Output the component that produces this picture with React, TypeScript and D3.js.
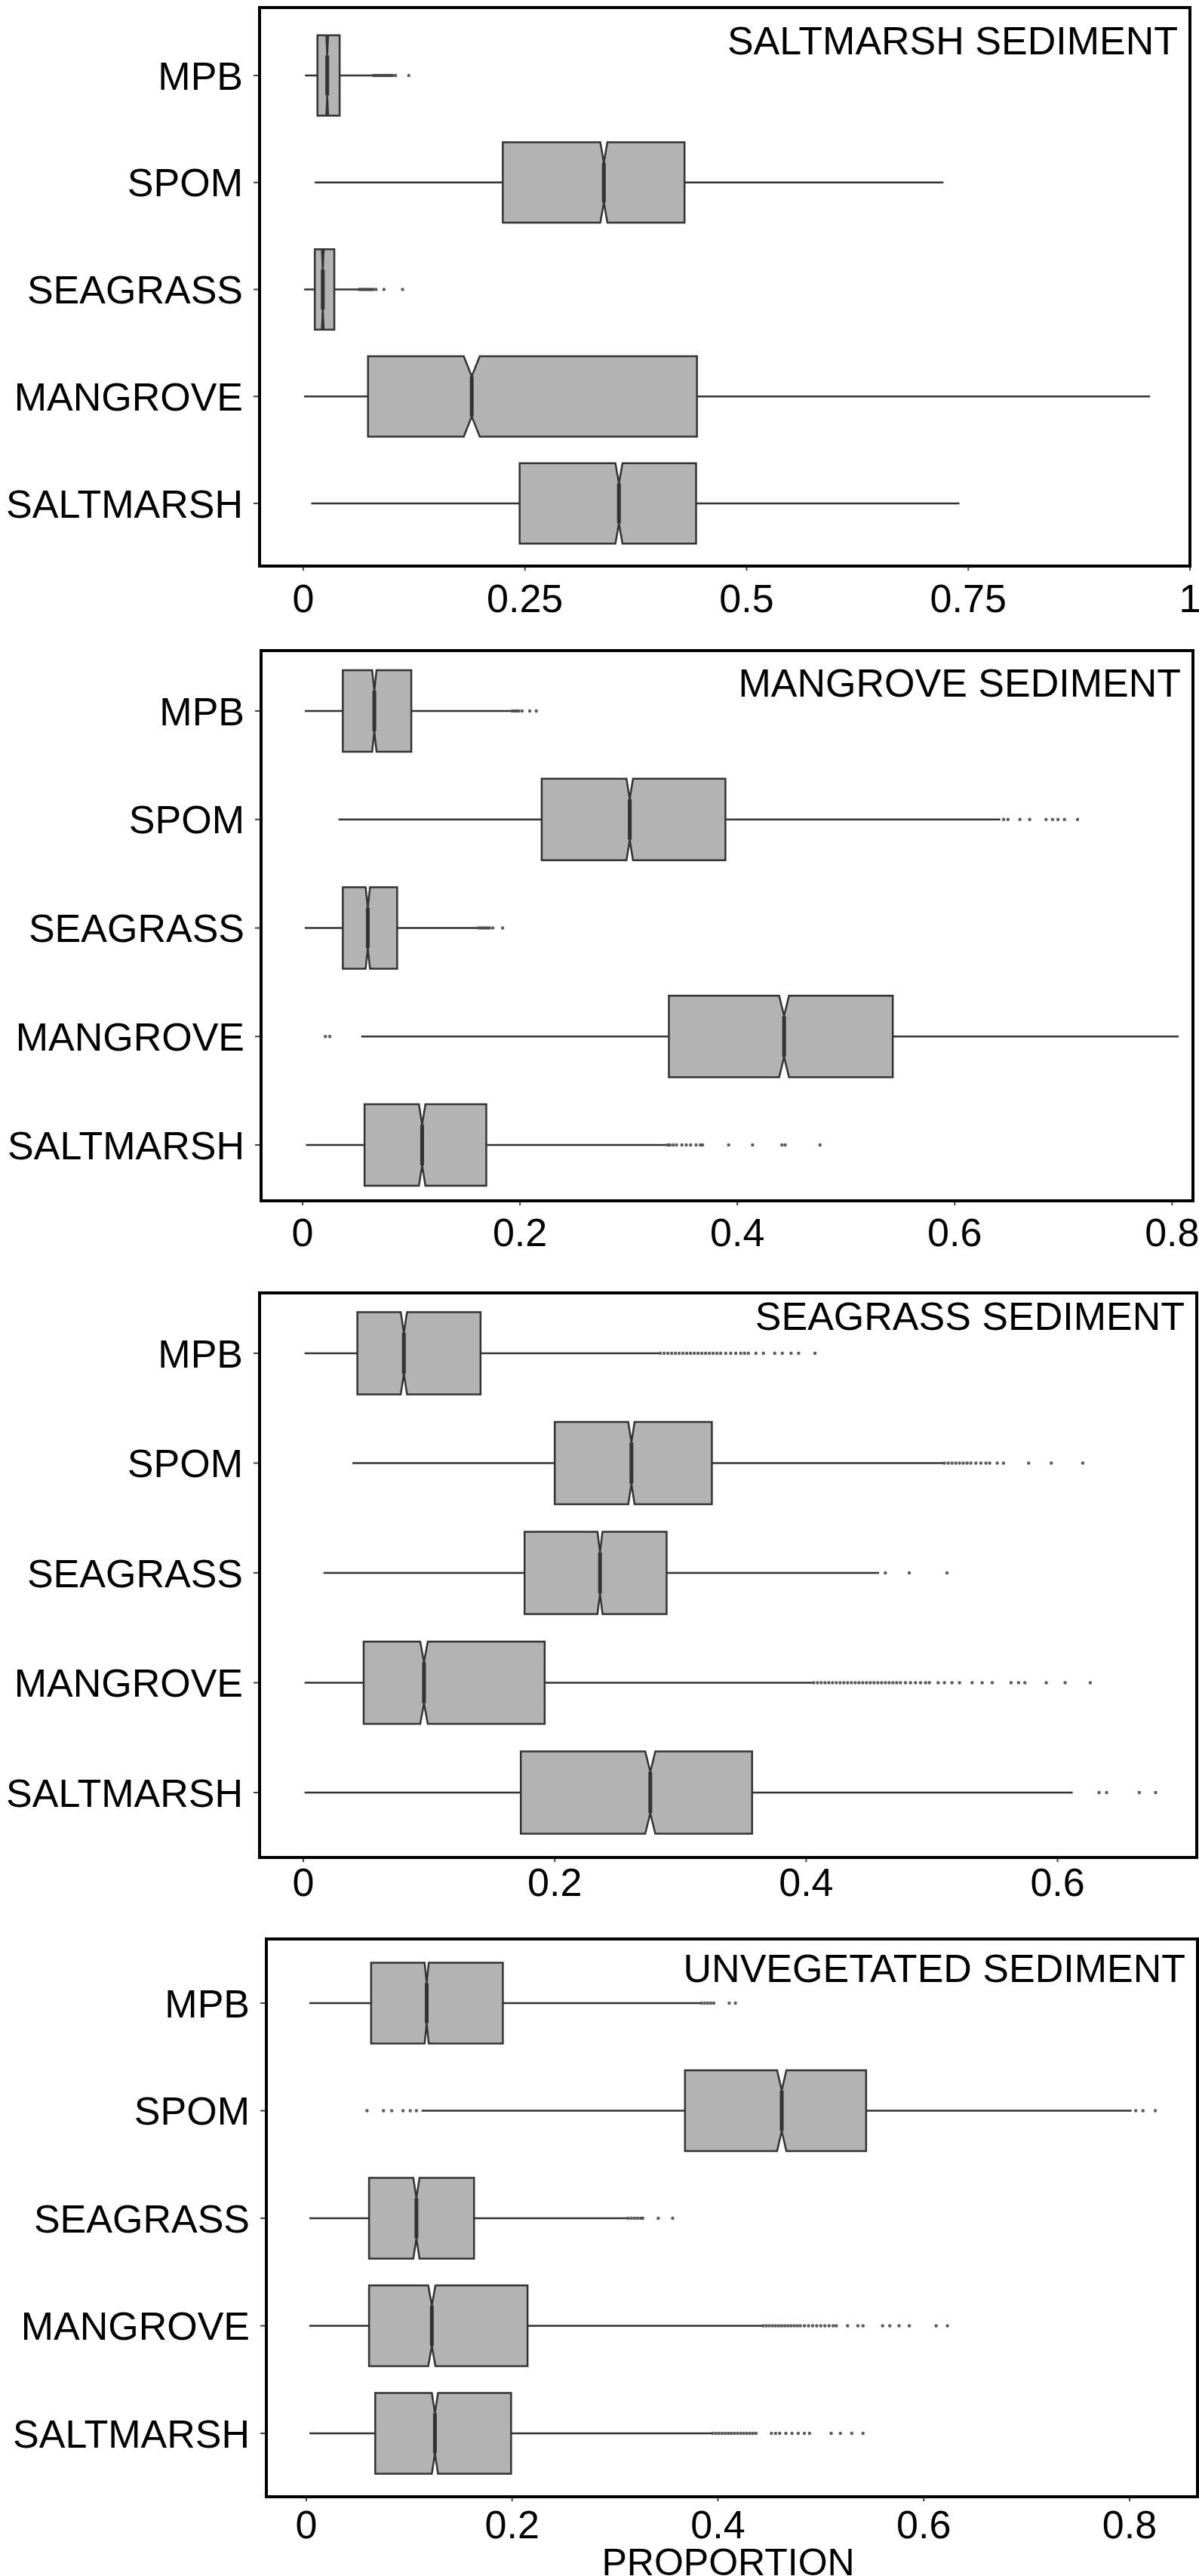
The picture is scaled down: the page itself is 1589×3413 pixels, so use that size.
import React from 'react';
import * as d3 from 'd3';

const W = 1589;
const H = 3413;

const categories = ['MPB', 'SPOM', 'SEAGRASS', 'MANGROVE', 'SALTMARSH'];
const panelTitles = ['SALTMARSH SEDIMENT', 'MANGROVE SEDIMENT', 'SEAGRASS SEDIMENT', 'UNVEGETATED SEDIMENT'];

// [whisker lo, q1, median, q3, whisker hi, notch half-width]
const saltmarshStats = [
  [0.002, 0.016, 0.027, 0.041, 0.078, 0.001],
  [0.013, 0.225, 0.339, 0.43, 0.722, 0.004],
  [0.001, 0.013, 0.022, 0.035, 0.062, 0.001],
  [0.001, 0.073, 0.19, 0.444, 0.955, 0.009],
  [0.009, 0.244, 0.356, 0.443, 0.74, 0.004],
];
const mangroveStats = [
  [0.002, 0.037, 0.066, 0.1, 0.192, 0.002],
  [0.033, 0.22, 0.301, 0.389, 0.642, 0.003],
  [0.002, 0.037, 0.06, 0.087, 0.161, 0.002],
  [0.054, 0.337, 0.443, 0.543, 0.806, 0.0045],
  [0.003, 0.057, 0.11, 0.169, 0.335, 0.003],
];
const seagrassStats = [
  [0.001, 0.043, 0.08, 0.141, 0.283, 0.0025],
  [0.039, 0.2, 0.261, 0.325, 0.509, 0.0025],
  [0.016, 0.176, 0.236, 0.289, 0.458, 0.002],
  [0.001, 0.048, 0.096, 0.192, 0.405, 0.003],
  [0.001, 0.173, 0.276, 0.357, 0.612, 0.004],
];
const unvegetatedStats = [
  [0.003, 0.063, 0.117, 0.191, 0.383, 0.002],
  [0.112, 0.368, 0.462, 0.544, 0.802, 0.0045],
  [0.003, 0.061, 0.107, 0.163, 0.312, 0.003],
  [0.003, 0.061, 0.122, 0.215, 0.443, 0.0035],
  [0.003, 0.067, 0.125, 0.199, 0.394, 0.003],
];

const saltmarshOutliers = [
  [0.079, 0.081, 0.083, 0.085, 0.087, 0.089, 0.091, 0.093, 0.095, 0.097, 0.099, 0.101, 0.104, 0.119],
  [],
  [0.063, 0.065, 0.067, 0.069, 0.071, 0.073, 0.075, 0.077, 0.079, 0.082, 0.091, 0.112],
  [],
  [],
];
const mangroveOutliers = [
  [0.193, 0.195, 0.197, 0.199, 0.202, 0.209, 0.215],
  [0.645, 0.649, 0.66, 0.669, 0.684, 0.69, 0.695, 0.701, 0.713],
  [0.162, 0.164, 0.166, 0.168, 0.17, 0.172, 0.175, 0.184],
  [0.021, 0.025],
  [0.336, 0.338, 0.341, 0.344, 0.349, 0.353, 0.357, 0.362, 0.366, 0.368, 0.392, 0.414, 0.441, 0.444, 0.476],
];
const seagrassOutliers = [
  [0.284, 0.287, 0.29, 0.293, 0.296, 0.299, 0.302, 0.305, 0.308, 0.311, 0.314, 0.317, 0.32, 0.323, 0.326,
    0.329, 0.332, 0.336, 0.34, 0.344, 0.348, 0.351, 0.354, 0.36, 0.366, 0.375, 0.381, 0.388, 0.394, 0.407],
  [0.51, 0.513, 0.516, 0.519, 0.522, 0.525, 0.528, 0.531, 0.535, 0.539, 0.543, 0.546, 0.552, 0.557, 0.577, 0.595, 0.62],
  [0.463, 0.482, 0.512],
  [0.406, 0.409, 0.412, 0.415, 0.418, 0.421, 0.424, 0.427, 0.43, 0.433, 0.436, 0.439, 0.442, 0.445, 0.448,
    0.451, 0.454, 0.457, 0.46, 0.463, 0.466, 0.469, 0.472, 0.475, 0.479, 0.483, 0.487, 0.491, 0.495, 0.498,
    0.505, 0.51, 0.516, 0.522, 0.532, 0.54, 0.548, 0.563, 0.569, 0.574, 0.591, 0.606, 0.626],
  [0.633, 0.639, 0.665, 0.678],
];
const unvegetatedOutliers = [
  [0.384, 0.387, 0.39, 0.393, 0.396, 0.411, 0.417],
  [0.059, 0.075, 0.083, 0.094, 0.101, 0.107, 0.806, 0.813, 0.825],
  [0.313, 0.316, 0.319, 0.322, 0.325, 0.327, 0.342, 0.356],
  [0.444, 0.447, 0.45, 0.453, 0.456, 0.459, 0.462, 0.465, 0.468, 0.471, 0.474, 0.477, 0.48, 0.484, 0.488,
    0.492, 0.496, 0.5, 0.504, 0.508, 0.512, 0.515, 0.526, 0.536, 0.541, 0.56, 0.567, 0.576, 0.586, 0.612, 0.623],
  [0.395, 0.398, 0.401, 0.404, 0.407, 0.41, 0.413, 0.416, 0.419, 0.422, 0.425, 0.428, 0.431, 0.434, 0.437,
    0.452, 0.456, 0.46, 0.466, 0.472, 0.478, 0.484, 0.489, 0.51, 0.519, 0.53, 0.541],
];

const ticksA = [0, 0.25, 0.5, 0.75, 1];
const ticksB = [0, 0.2, 0.4, 0.6, 0.8];
const ticksC = [0, 0.2, 0.4, 0.6];

const xLabel = 'PROPORTION';

const statsList = [saltmarshStats, mangroveStats, seagrassStats, unvegetatedStats];
const outlierList = [saltmarshOutliers, mangroveOutliers, seagrassOutliers, unvegetatedOutliers];
const tickList = [ticksA, ticksB, ticksC, ticksB];

// frame geometry per panel (pixels)
const layout = [
  { top: 10, bottom: 750, left: 344, right: 1577, domain: [-0.0493, 1.0], catTop: 100, catBottom: 667, tickY: 792, titleY: 72 },
  { top: 862, bottom: 1591, left: 346, right: 1581, domain: [-0.0382, 0.8192], catTop: 942, catBottom: 1517, tickY: 1632, titleY: 923 },
  { top: 1713, bottom: 2461, left: 344, right: 1586, domain: [-0.0348, 0.7107], catTop: 1793, catBottom: 2375, tickY: 2493, titleY: 1762 },
  { top: 2569, bottom: 3308, left: 353, right: 1587, domain: [-0.0388, 0.866], catTop: 2654, catBottom: 3224, tickY: 3344, titleY: 2626 },
];

const FONT = '"Liberation Sans", Arial, sans-serif';
const INK = '#333333';

const fmt = (v: number) => (v === 0 ? '0' : String(v));

const Panel = ({ i }: { i: number }) => {
  const L = layout[i];
  const x = d3.scaleLinear().domain(L.domain).range([L.left, L.right]);
  const y = d3.scalePoint<string>().domain(categories).range([L.catTop, L.catBottom]);
  const step = (L.catBottom - L.catTop) / (categories.length - 1);
  const h = (step * 0.75) / 2;
  const stats = statsList[i];
  const outs = outlierList[i];

  return (
    <g>
      {categories.map((c, k) => {
        const [lo, q1, med, q3, hi, n] = stats[k];
        const cy = y(c) as number;
        const xm = x(med);
        const nl = x(med - n);
        const nh = x(med + n);
        const path = d3.path();
        path.moveTo(x(q1), cy - h);
        path.lineTo(nl, cy - h);
        path.lineTo(xm, cy - h / 2);
        path.lineTo(nh, cy - h);
        path.lineTo(x(q3), cy - h);
        path.lineTo(x(q3), cy + h);
        path.lineTo(nh, cy + h);
        path.lineTo(xm, cy + h / 2);
        path.lineTo(nl, cy + h);
        path.lineTo(x(q1), cy + h);
        path.closePath();
        return (
          <g key={c}>
            <line x1={x(lo)} x2={x(q1)} y1={cy} y2={cy} stroke={INK} strokeWidth={2.5} />
            <line x1={x(q3)} x2={x(hi)} y1={cy} y2={cy} stroke={INK} strokeWidth={2.5} />
            <path d={path.toString()} fill="#b3b3b3" stroke={INK} strokeWidth={2.5} />
            <line x1={xm} x2={xm} y1={cy - h / 2} y2={cy + h / 2} stroke={INK} strokeWidth={5} />
            {outs[k].map((v, j) => (
              <circle key={j} cx={x(v)} cy={cy} r={2.2} fill="#333" fillOpacity={0.8} />
            ))}
            <line x1={L.left - 8} x2={L.left} y1={cy} y2={cy} stroke="#444" strokeWidth={2} />
            <text
              x={L.left - 22}
              y={cy}
              dy="0.36em"
              textAnchor="end"
              fontFamily={FONT}
              fontSize={52}
              fill="#000"
            >
              {c}
            </text>
          </g>
        );
      })}
      <rect
        x={L.left}
        y={L.top}
        width={L.right - L.left}
        height={L.bottom - L.top}
        fill="none"
        stroke="#000"
        strokeWidth={4}
      />
      {tickList[i].map((t) => (
        <g key={t}>
          <line x1={x(t)} x2={x(t)} y1={L.bottom + 2} y2={L.bottom + 6} stroke="#444" strokeWidth={2} />
          <text
            x={x(t)}
            y={L.tickY}
            dy="0.36em"
            textAnchor="middle"
            fontFamily={FONT}
            fontSize={52}
            fill="#000"
          >
            {fmt(t)}
          </text>
        </g>
      ))}
      <text
        x={L.right - 16}
        y={L.titleY}
        textAnchor="end"
        fontFamily={FONT}
        fontSize={52}
        fill="#000"
      >
        {panelTitles[i]}
      </text>
    </g>
  );
};

export default function App() {
  const last = layout[layout.length - 1];
  const mid = d3.scaleLinear().domain(last.domain).range([last.left, last.right]);
  return (
    <svg
      width={W}
      height={H}
      viewBox={`0 0 ${W} ${H}`}
      style={{ position: 'absolute', left: 0, top: 0, background: '#fff' }}
    >
      <rect width={W} height={H} fill="#fff" />
      {layout.map((_, i) => (
        <Panel key={i} i={i} />
      ))}
      <text
        x={mid(0.41)}
        y={3412}
        textAnchor="middle"
        fontFamily={FONT}
        fontSize={50}
        fill="#000"
      >
        {xLabel}
      </text>
    </svg>
  );
}
